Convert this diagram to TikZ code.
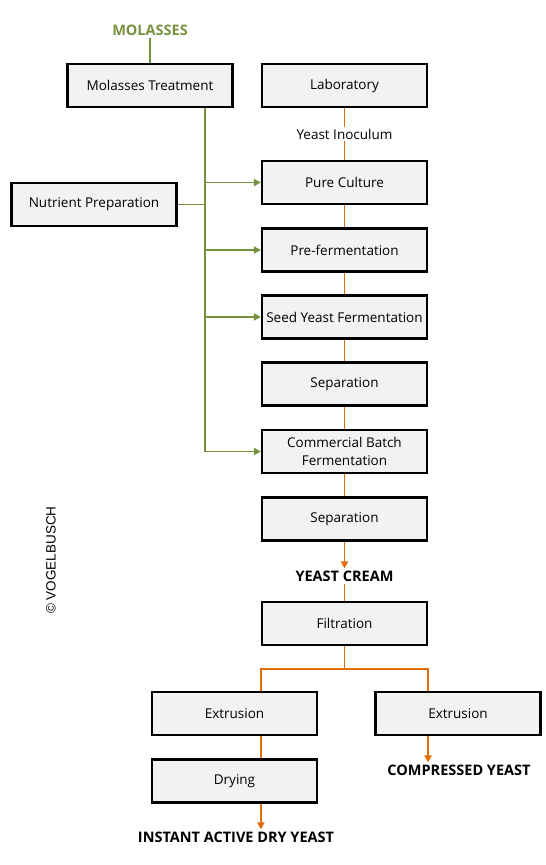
\documentclass[tikz,border=0pt]{standalone}
\usepackage{fontspec}
\setmainfont{Open Sans}
\newfontfamily\arialfont{Liberation Sans}
\usetikzlibrary{positioning}
\usetikzlibrary{arrows.meta}
\definecolor{olivegreen}{HTML}{76923C}
\definecolor{procorange}{HTML}{E46C0A}
\definecolor{boxgray}{HTML}{F2F2F2}
\tikzset{
    mynode/.style = {rectangle, line width=2.2pt, draw=black, fill=boxgray, align=center, minimum width=165pt, minimum height=43pt, inner sep=1pt, font=\fontsize{13.5}{16}\selectfont, text=black},
    mylabel/.style = {align=center, inner sep=2pt, font=\fontsize{13.5}{15}\selectfont, text=black},
    myprod/.style = {align=center, inner sep=2pt, font=\fontsize{14.5}{16}\selectfont\bfseries, text=black},
    edgeo/.style = {-, line width=1.9pt, procorange},
    edgeoa/.style = {-{Triangle[width=7pt,length=7pt]}, line width=1.9pt, procorange},
    edgeg/.style = {-, line width=1.9pt, olivegreen},
    edgega/.style = {-{Triangle[width=7pt,length=7pt]}, line width=1.9pt, olivegreen}
}
\begin{document}
\begin{tikzpicture}[x=1pt,y=-1pt]
  \useasboundingbox (0,0) rectangle (546,865);
  % left column
  \node[myprod, text=olivegreen] (mol) at (150,30) {MOLASSES};
  \node[mynode] (mt) at (150,85.5) {Molasses Treatment};
  \node[mynode] (np) at (94,204.5) {Nutrient Preparation};
  % main line
  \node[mynode] (lab) at (344.5,85.5) {Laboratory};
  \node[mylabel] (inoc) at (344.5,134) {Yeast Inoculum};
  \node[mynode] (pc) at (344.5,182.5) {Pure Culture};
  \node[mynode] (pf) at (344.5,250) {Pre-fermentation};
  \node[mynode] (syf) at (344.5,317) {Seed Yeast Fermentation};
  \node[mynode] (sep1) at (344.5,384) {Separation};
  \node[mynode] (cbf) at (344.5,451.5) {Commercial Batch\\[2pt]Fermentation};
  \node[mynode] (sep2) at (344.5,519) {Separation};
  \node[myprod] (cream) at (344.5,576) {YEAST CREAM};
  \node[mynode] (fil) at (344.5,623.5) {Filtration};
  % products
  \node[mynode] (exl) at (234.5,713.5) {Extrusion};
  \node[mynode] (exr) at (458,713.5) {Extrusion};
  \node[mynode] (dry) at (234.5,781) {Drying};
  \node[myprod] (iady) at (236,837) {INSTANT ACTIVE DRY YEAST};
  \node[myprod] (cy) at (459,770) {COMPRESSED YEAST};
  \node[rotate=90, font=\arialfont\fontsize{13.5}{15}\selectfont] (vb) at (51,560) {\textcopyright{} VOGELBUSCH};

  \coordinate (trunk) at (205,108);
  \coordinate (split) at (344.5,669);

  % molasses feed
  \draw[edgeg] (mol) -- (mt);
  \draw[edgega] (mt.south -| trunk) |- (cbf.west);
  \draw[edgeg] (np.east) -- (np.east -| trunk);
  \draw[edgega] (pc.west -| trunk) -- (pc.west);
  \draw[edgega] (pf.west -| trunk) -- (pf.west);
  \draw[edgega] (syf.west -| trunk) -- (syf.west);

  % yeast line
  \draw[edgeo] (lab) -- (inoc);
  \draw[edgeo] (inoc) -- (pc);
  \draw[edgeo] (pc) -- (pf);
  \draw[edgeo] (pf) -- (syf);
  \draw[edgeo] (syf) -- (sep1);
  \draw[edgeo] (sep1) -- (cbf);
  \draw[edgeo] (cbf) -- (sep2);
  \draw[edgeoa] (sep2) -- (cream);
  \draw[edgeo] (cream) -- (fil);
  \draw[edgeo] (fil) -- (split);
  \draw[edgeo] (exl.north -| fil.west) |- (split) -| (exr.north -| fil.east);
  \draw[edgeo] (exl.south -| fil.west) -- (dry.north -| fil.west);
  \draw[edgeoa] (dry.south -| fil.west) -- (iady.north -| fil.west);
  \draw[edgeoa] (exr.south -| fil.east) -- (cy.north -| fil.east);
\end{tikzpicture}
\end{document}
